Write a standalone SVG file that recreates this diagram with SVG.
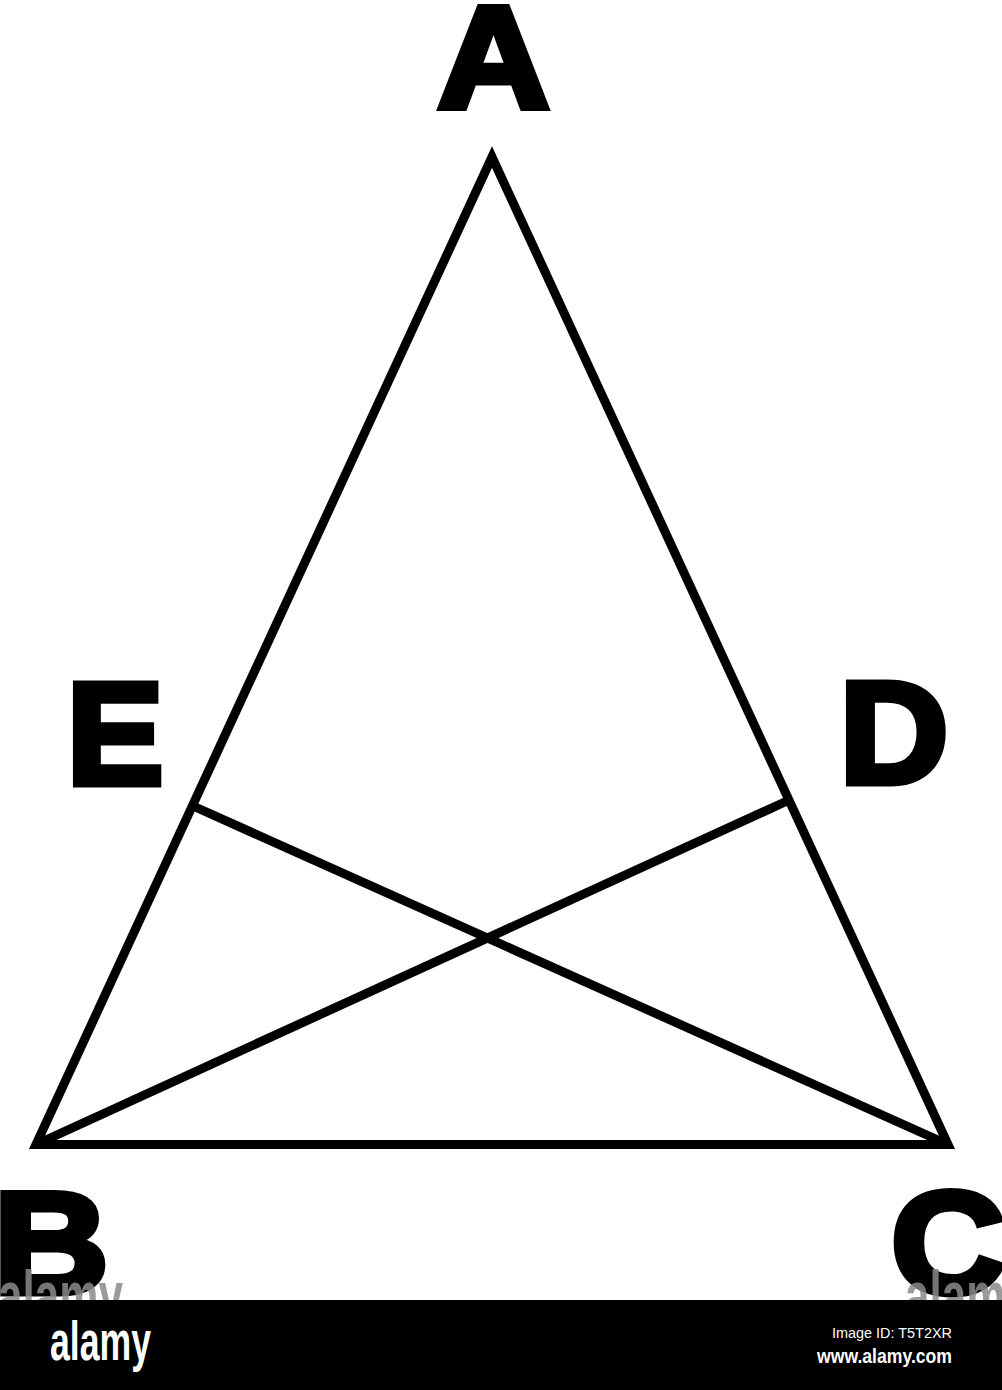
<svg xmlns="http://www.w3.org/2000/svg" width="1002" height="1390" viewBox="0 0 1002 1390">
<style>
.lbl{font-family:"Liberation Sans",Arial,sans-serif;font-weight:bold;font-size:145px;fill:#000;stroke:#000;stroke-width:7;stroke-linejoin:miter;text-anchor:middle}
.edge{stroke:#000;stroke-width:9;fill:none;stroke-linejoin:miter;stroke-miterlimit:10}
.wm{font-family:"Liberation Sans",Arial,sans-serif;font-weight:bold;font-size:70px;fill:#8a8a8a;fill-opacity:0.85}
</style>
<defs>
<clipPath id="above"><rect x="0" y="0" width="1002" height="1300"/></clipPath>
</defs>
<rect width="1002" height="1390" fill="#fff"/>
<g id="connectors">
<polygon class="edge" points="492,157 36,1144.5 948,1144.5"/>
<line class="edge" x1="193" y1="806" x2="948" y2="1144.5"/>
<line class="edge" x1="787" y1="801" x2="36" y2="1144.5"/>
</g>
<g id="node-A"><text class="lbl" x="493.5" y="106.5" transform="translate(493.5 0) scale(1.07 1) translate(-493.5 0)">A</text></g>
<g id="node-E"><text class="lbl" x="115" y="783.5">E</text></g>
<g id="node-D"><text class="lbl" x="894" y="783.5" transform="translate(894 0) scale(1.04 1) translate(-894 0)">D</text></g>
<g id="node-B"><text class="lbl" x="51" y="1293.5" transform="translate(51 0) scale(1.1 1) translate(-51 0)">B</text></g>
<g id="node-C"><text class="lbl" x="948" y="1293.5" transform="translate(948 0) scale(1.09 1) translate(-948 0)">C</text></g>
<g id="watermarks" clip-path="url(#above)">
<text class="wm" x="-2" y="1320" textLength="125" lengthAdjust="spacingAndGlyphs">alamy</text>
<text class="wm" x="905" y="1320" textLength="125" lengthAdjust="spacingAndGlyphs">alamy</text>
</g>
<g id="footer">
<rect x="0" y="1300" width="1002" height="90" fill="#000"/>
<text x="50" y="1360" font-family="'Liberation Sans',Arial,sans-serif" font-weight="bold" font-size="56" fill="#fff" textLength="101" lengthAdjust="spacingAndGlyphs">alamy</text>
<text x="952" y="1338" font-family="'Liberation Sans',Arial,sans-serif" font-size="15" fill="#fff" text-anchor="end" textLength="120" lengthAdjust="spacingAndGlyphs">Image ID: T5T2XR</text>
<text x="952" y="1363" font-family="'Liberation Sans',Arial,sans-serif" font-weight="bold" font-size="20" fill="#fff" text-anchor="end" textLength="135" lengthAdjust="spacingAndGlyphs">www.alamy.com</text>
</g>
</svg>
